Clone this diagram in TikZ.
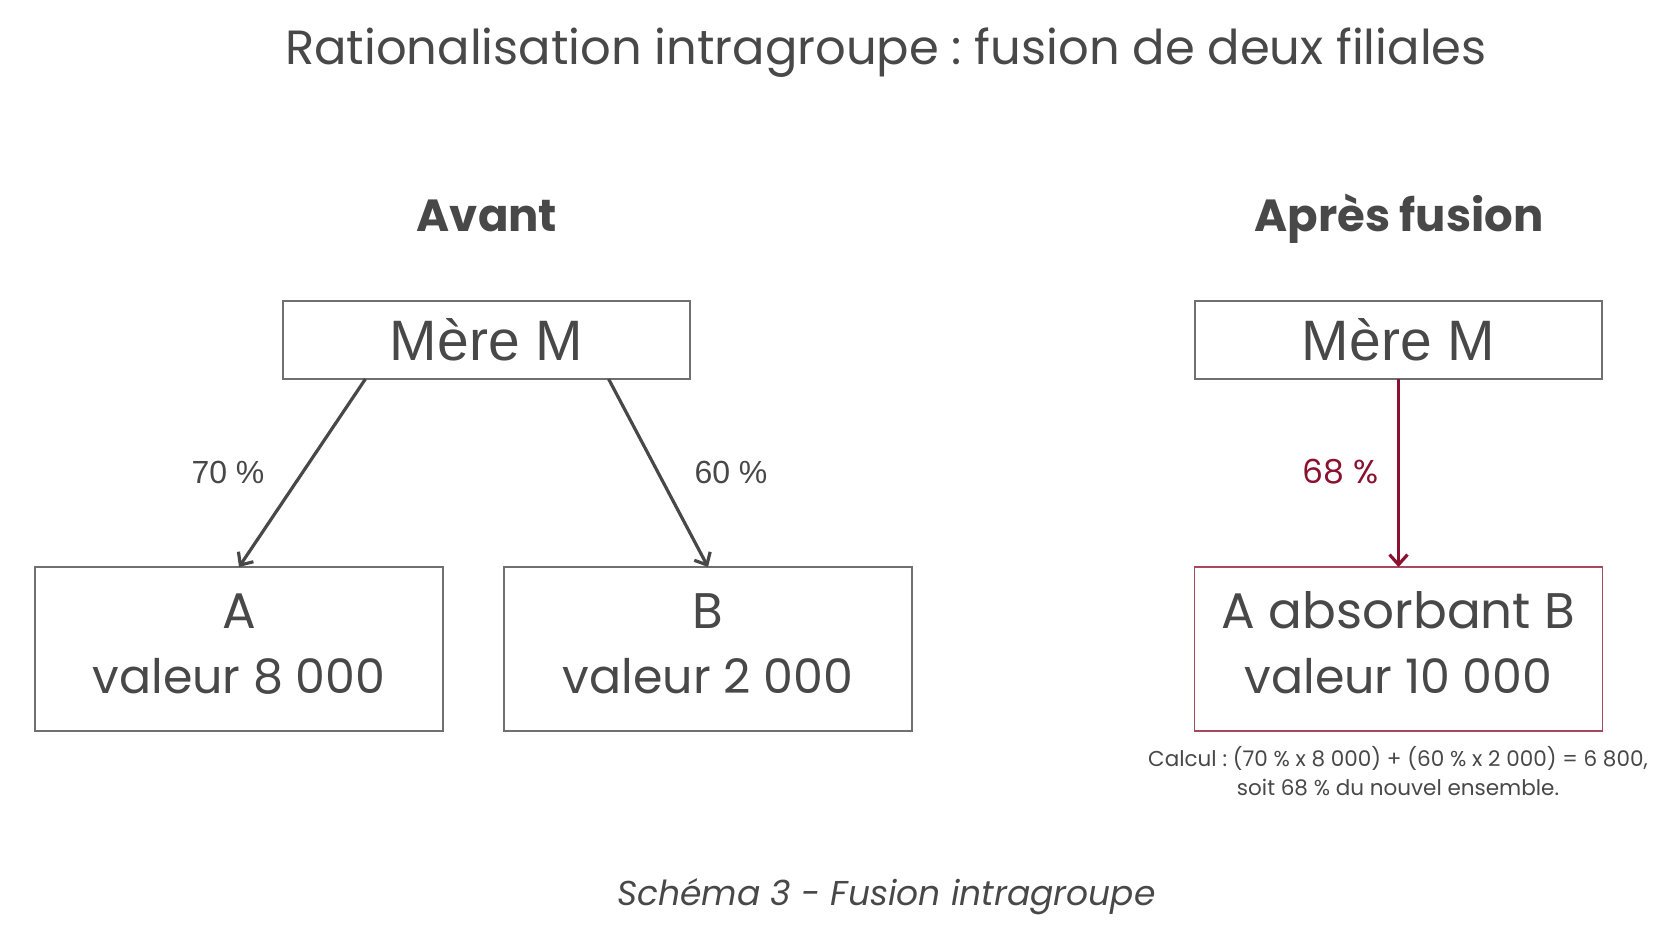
\documentclass[tikz,border=0pt]{standalone}
\usepackage{fontspec}
\setmainfont{Poppins}
\newfontfamily\arialf{Liberation Sans}
\usetikzlibrary{arrows.meta,calc}
\definecolor{txt}{HTML}{484848}
\definecolor{boxgray}{HTML}{707070}
\definecolor{wine}{HTML}{8A1230}
\definecolor{winebox}{HTML}{A54A5E}
\newcommand{\secondline}[1]{{\fontsize{47.5}{65}\selectfont #1}}
\frenchspacing
\begin{document}
\begin{tikzpicture}[x=1pt,y=-1pt,
  every node/.style={text=txt,inner sep=0pt,outer sep=0pt},
  topbox/.style={draw=boxgray,line width=1.3pt,minimum width=407pt,minimum height=78pt,
     text height=40pt,text depth=0pt,font=\arialf\fontsize{57}{62}\selectfont},
  subbox/.style={draw=boxgray,line width=1.3pt,minimum width=408pt,minimum height=164pt,
     align=center,text height=98pt,text depth=10pt,font=\fontsize{50}{65}\selectfont},
  redbox/.style={subbox,draw=winebox},
  heading/.style={anchor=base,font=\bfseries\fontsize{45}{54}\selectfont},
  pct/.style={anchor=base,font=\arialf\fontsize{32}{38}\selectfont},
  garrow/.style={draw=txt,line width=3.2pt,-{Straight Barb[length=10pt,width=18pt]}},
  rarrow/.style={draw=wine,line width=3.2pt,-{Straight Barb[length=10pt,width=18pt]}}
]
\useasboundingbox[fill=white] (0,0) rectangle (1668,941);

\node[anchor=base,font=\fontsize{48}{56}\selectfont] (title) at (886,65)
  {Rationalisation intragroupe : fusion de deux filiales};

\node[heading] (avant) at (487,231.7) {Avant};
\node[heading] (apres) at (1399,231.7) {Après fusion};

\node[topbox] (mL) at (486.5,340) {Mère M};
\node[topbox] (mR) at (1398.5,340) {Mère M};

\node[subbox] (A) at (239,649) {A\\\secondline{valeur 8 000}};
\node[subbox] (B) at (708,649) {B\\\secondline{valeur 2 000}};
\node[redbox] (AB) at (1398.5,649) {A absorbant B\\\secondline{valeur 10 000}};

\draw[garrow] ($(mL.south)!0.595!(mL.south west)$) -- (A.north);
\draw[garrow] ($(mL.south)!0.6!(mL.south east)$) -- (B.north);
\draw[rarrow] (mR.south) -- (AB.north);

\node[pct] (p70) at (228,483) {70 \%};
\node[pct] (p60) at (731,483) {60 \%};
\node[anchor=base,font=\fontsize{33}{40}\selectfont,text=wine] (p68) at (1340.5,483) {68 \%};

\node[anchor=base,align=center,font=\fontsize{21.5}{29.5}\selectfont] (calc) at (1398,795.7)
  {Calcul : (70 \% x 8 000) + (60 \% x 2 000) = 6 800,\\soit 68 \% du nouvel ensemble.};

\node[anchor=base,font=\itshape\fontsize{34.5}{40}\selectfont] (cap) at (886.5,905)
  {Schéma 3 - Fusion intragroupe};
\end{tikzpicture}
\end{document}
